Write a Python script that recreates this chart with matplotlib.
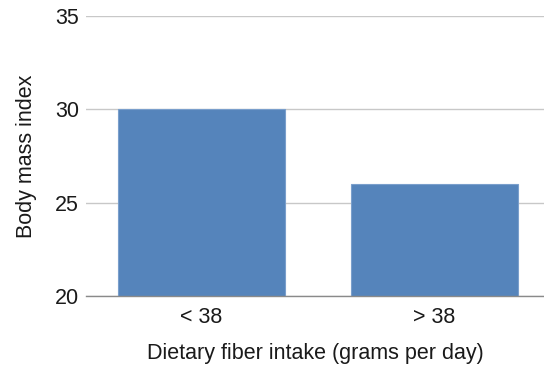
import matplotlib
matplotlib.use("Agg")
import matplotlib.pyplot as plt

categories = ["< 38", "> 38"]
bmi = [30, 26]

plt.rcParams['font.family'] = ['Liberation Sans', 'DejaVu Sans']

fig = plt.figure(figsize=(5.44, 3.65), dpi=100)
ax = fig.add_axes([86/544, (365-296)/365, (544-86)/544, 280/365])

x = range(len(categories))
ax.bar(x, bmi, width=0.717, bottom=0, color="#5584bb", edgecolor="#7a9fcc",
       linewidth=0.8, zorder=3)

ax.set_ylim(20, 35)
ax.set_xlim(-0.496, 1.47)
ax.set_yticks([20, 25, 30, 35])
ax.set_xticks(list(x))
ax.set_xticklabels(categories)
ax.yaxis.grid(True, color="#c8c8c8", linewidth=1.0, zorder=0)
ax.set_axisbelow(True)

for s in ["top", "right", "left"]:
    ax.spines[s].set_visible(False)
ax.spines["bottom"].set_color("#8a8a8a")
ax.spines["bottom"].set_linewidth(1.0)
ax.spines["bottom"].set_zorder(4)

ax.tick_params(axis="both", length=0, labelsize=15.5, colors="#1a1a1a")
ax.tick_params(axis="y", pad=5)
ax.tick_params(axis="x", pad=8)

ax.set_xlabel("Dietary fiber intake (grams per day)", fontsize=15.5, color="#1a1a1a", labelpad=11)
ax.set_ylabel("Body mass index", fontsize=15.5, color="#1a1a1a", labelpad=13)

fig.savefig("out.png", dpi=100)
